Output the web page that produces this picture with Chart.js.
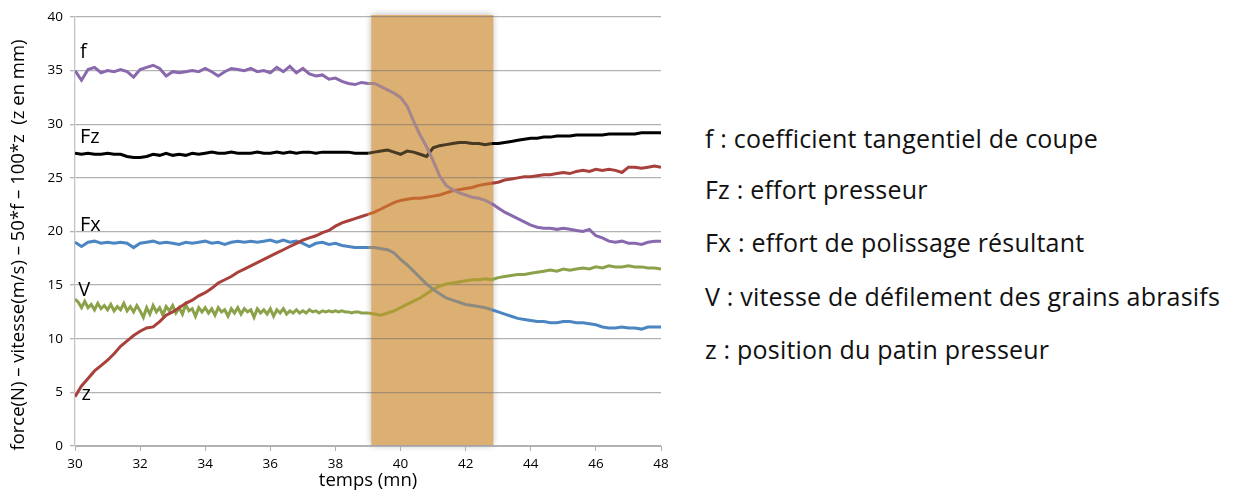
<!DOCTYPE html>
<html>
<head>
<meta charset="utf-8">
<script src="https://cdn.jsdelivr.net/npm/chart.js@4.4.1/dist/chart.umd.min.js"></script>
<style>
    body { margin: 0; background: #fff; width: 1237px; height: 492px; overflow: hidden; position: relative; font-family: 'Open Sans', sans-serif; }
    #chartBox { position: absolute; left: 0; top: 0; width: 680px; height: 492px; }
    .legend-line { position: absolute; left: 705px; font-size: 25px; color: #111; white-space: nowrap; line-height: 1; letter-spacing: 0.2px; }
</style>
</head>
<body>
<div id="chartBox"><canvas id="polissageChart"></canvas></div>
<div class="legend-line" style="top:126px">f : coefficient tangentiel de coupe</div>
<div class="legend-line" style="top:177px">Fz : effort presseur</div>
<div class="legend-line" style="top:230px">Fx : effort de polissage résultant</div>
<div class="legend-line" style="top:284px">V : vitesse de défilement des grains abrasifs</div>
<div class="legend-line" style="top:337px">z : position du patin presseur</div>
<script>
// temps (mn), un point toutes les 0.2 mn de 30 à 48
const temps = [];
for (let i = 0; i <= 90; i++) temps.push(Math.round((30 + i * 0.2) * 10) / 10);

// V est bruité : 0.1 mn de 30 à 38.9, puis 0.2 mn jusqu'à 48
const tempsV = [];
for (let i = 0; i < 90; i++) tempsV.push(Math.round((30 + i * 0.1) * 10) / 10);
for (let i = 0; i <= 45; i++) tempsV.push(Math.round((39 + i * 0.2) * 10) / 10);

const serieF = [
    35.0, 34.1, 35.1, 35.3, 34.8,
    35.0, 34.9, 35.1, 34.9, 34.4,
    35.1, 35.3, 35.5, 35.2, 34.5,
    34.9, 34.8, 34.9, 35.0, 34.9,
    35.2, 34.9, 34.5, 34.9, 35.2,
    35.1, 35.0, 35.2, 34.9, 35.0,
    34.8, 35.3, 34.9, 35.4, 34.8,
    35.2, 34.7, 34.5, 34.6, 34.2,
    34.3, 34.0, 33.8, 33.7, 33.9,
    33.8, 33.8, 33.5, 33.2, 32.9,
    32.5, 31.7, 30.3, 29.0, 27.9,
    26.6, 25.2, 24.3, 23.9, 23.6,
    23.4, 23.2, 23.1, 22.9, 22.6,
    22.2, 21.8, 21.5, 21.2, 20.9,
    20.6, 20.4, 20.3, 20.3, 20.2,
    20.3, 20.2, 20.1, 20.0, 20.2,
    19.6, 19.4, 19.1, 19.0, 19.1,
    18.9, 18.9, 18.8, 19.0, 19.1,
    19.1
];
const serieFz = [
    27.3, 27.2, 27.3, 27.2, 27.2,
    27.3, 27.2, 27.2, 27.0, 26.9,
    26.9, 27.0, 27.2, 27.1, 27.3,
    27.1, 27.2, 27.1, 27.3, 27.2,
    27.3, 27.4, 27.3, 27.3, 27.4,
    27.3, 27.3, 27.3, 27.4, 27.3,
    27.3, 27.4, 27.3, 27.4, 27.3,
    27.4, 27.4, 27.3, 27.4, 27.4,
    27.4, 27.4, 27.4, 27.3, 27.3,
    27.3, 27.4, 27.5, 27.6, 27.4,
    27.2, 27.5, 27.4, 27.2, 27.0,
    27.8, 28.0, 28.1, 28.2, 28.3,
    28.3, 28.2, 28.2, 28.1, 28.2,
    28.2, 28.3, 28.4, 28.5, 28.6,
    28.7, 28.7, 28.8, 28.8, 28.9,
    28.9, 28.9, 29.0, 29.0, 29.0,
    29.0, 29.0, 29.1, 29.1, 29.1,
    29.1, 29.1, 29.2, 29.2, 29.2,
    29.2
];
const serieFx = [
    19.0, 18.6, 19.0, 19.1, 18.9,
    19.0, 18.9, 19.0, 18.9, 18.5,
    18.9, 19.0, 19.1, 18.9, 19.0,
    18.9, 18.8, 19.0, 18.9, 19.0,
    19.1, 18.9, 19.0, 18.8, 19.0,
    19.1, 19.0, 19.1, 19.0, 19.1,
    19.2, 19.0, 19.2, 19.0, 19.1,
    18.9, 18.6, 18.9, 19.0, 18.8,
    18.9, 18.7, 18.6, 18.5, 18.5,
    18.5, 18.5, 18.4, 18.3, 18.0,
    17.4, 16.9, 16.3, 15.7, 15.1,
    14.6, 14.2, 13.8, 13.6, 13.4,
    13.2, 13.1, 13.0, 12.9, 12.7,
    12.5, 12.3, 12.1, 11.9, 11.8,
    11.7, 11.6, 11.6, 11.5, 11.5,
    11.6, 11.6, 11.5, 11.5, 11.4,
    11.3, 11.1, 11.0, 11.0, 11.1,
    11.0, 11.0, 10.9, 11.1, 11.1,
    11.1
];
const serieV = [
    13.7, 13.4, 12.9, 13.5, 12.9, 13.2, 12.7, 13.3, 12.8, 13.1,
    12.7, 13.2, 12.6, 13.0, 12.7, 13.3, 12.6, 13.0, 12.5, 13.1,
    12.6, 12.0, 12.9, 12.3, 13.1, 12.5, 12.9, 12.2, 13.0, 12.6,
    13.1, 12.4, 12.9, 12.3, 13.2, 12.6, 12.8, 12.1, 12.9, 12.5,
    12.9, 12.4, 12.8, 12.2, 12.9, 12.5, 12.7, 12.1, 12.8, 12.4,
    12.9, 12.3, 12.8, 12.5, 12.7, 12.0, 12.8, 12.4, 12.7, 12.3,
    12.8, 12.1, 12.7, 12.4, 12.8, 12.3, 12.6, 12.4, 12.7, 12.4,
    12.6, 12.4, 12.7, 12.5, 12.6, 12.4, 12.6, 12.5, 12.6, 12.5,
    12.6, 12.5, 12.6, 12.5, 12.5, 12.4, 12.5, 12.5, 12.4, 12.4,
    12.4, 12.3, 12.2, 12.4, 12.6,
    12.9, 13.2, 13.5, 13.8, 14.2,
    14.6, 14.9, 15.1, 15.2, 15.3,
    15.4, 15.5, 15.5, 15.6, 15.5,
    15.7, 15.8, 15.9, 16.0, 16.0,
    16.1, 16.2, 16.3, 16.4, 16.3,
    16.5, 16.4, 16.5, 16.6, 16.5,
    16.7, 16.6, 16.8, 16.7, 16.7,
    16.8, 16.7, 16.7, 16.6, 16.6,
    16.5
];
const serieZ = [
    4.6, 5.6, 6.3, 7.0, 7.5,
    8.0, 8.6, 9.3, 9.8, 10.3,
    10.7, 11.0, 11.1, 11.6, 12.2,
    12.5, 12.9, 13.3, 13.6, 14.0,
    14.3, 14.7, 15.2, 15.5, 15.8,
    16.2, 16.5, 16.8, 17.1, 17.4,
    17.7, 18.0, 18.3, 18.6, 18.9,
    19.2, 19.4, 19.6, 19.9, 20.1,
    20.5, 20.8, 21.0, 21.2, 21.4,
    21.6, 21.8, 22.1, 22.4, 22.7,
    22.9, 23.0, 23.1, 23.1, 23.2,
    23.3, 23.4, 23.6, 23.8, 23.9,
    24.0, 24.1, 24.3, 24.4, 24.5,
    24.6, 24.8, 24.9, 25.0, 25.1,
    25.1, 25.2, 25.3, 25.3, 25.4,
    25.5, 25.4, 25.6, 25.7, 25.6,
    25.8, 25.7, 25.8, 25.7, 25.5,
    26.0, 26.0, 25.9, 26.0, 26.1,
    26.0
];

const xTicks = [30, 32, 34, 36, 38, 40, 42, 44, 46, 48];
const yTicks = [0, 5, 10, 15, 20, 25, 30, 35, 40];
const titreY = 'force(N) – vitesse(m/s) – 50*f – 100*z  (z en mm)';

// zone orange (mn)
const zoneDebut = 39.1;
const zoneFin = 42.85;

// étiquettes posées sur les courbes
const etiquettes = [
    { texte: 'f', x: 30.15, y: 36.7 },
    { texte: 'Fz', x: 30.15, y: 28.8 },
    { texte: 'Fx', x: 30.15, y: 20.6 },
    { texte: 'V', x: 30.1, y: 14.5 },
    { texte: 'z', x: 30.2, y: 4.8 }
];

function serie(label, xs, values, color, dansZone) {
    return {
        label: label,
        data: values.map(function(v, i) { return { x: xs[i], y: v }; }),
        borderColor: color,
        borderWidth: 3,
        pointRadius: 0,
        tension: 0,
        fill: false,
        segment: {
            borderColor: function(ctx) {
                const mid = (ctx.p0.parsed.x + ctx.p1.parsed.x) / 2;
                return (mid >= zoneDebut && mid <= zoneFin) ? dansZone : color;
            }
        }
    };
}

const zonePlugin = {
    id: 'zoneOrange',
    beforeDraw: function(chart) {
        const ctx = chart.ctx;
        const x = chart.scales.x;
        const area = chart.chartArea;
        const x0 = x.getPixelForValue(zoneDebut);
        const x1 = x.getPixelForValue(zoneFin);
        ctx.save();
        ctx.shadowColor = 'rgba(0, 0, 0, .3)';
        ctx.shadowBlur = 7;
        ctx.fillStyle = '#dcaf72';
        ctx.fillRect(x0, area.top - 2, x1 - x0, area.bottom - area.top + 1);
        ctx.restore();

        // titre de l'axe vertical
        ctx.save();
        ctx.translate(19, 245);
        ctx.rotate(-Math.PI / 2);
        ctx.fillStyle = '#000';
        ctx.font = "18.5px 'Open Sans', sans-serif";
        ctx.textAlign = 'center';
        ctx.textBaseline = 'middle';
        ctx.fillText(titreY, 0, 0);
        ctx.restore();
    },
    afterDatasetsDraw: function(chart) {
        const ctx = chart.ctx;
        ctx.save();
        ctx.fillStyle = '#000';
        ctx.font = "20px 'Open Sans', sans-serif";
        ctx.textAlign = 'left';
        ctx.textBaseline = 'middle';
        etiquettes.forEach(function(e) {
            ctx.fillText(e.texte, chart.scales.x.getPixelForValue(e.x), chart.scales.y.getPixelForValue(e.y));
        });
        ctx.restore();
    }
};

new Chart(document.getElementById('polissageChart'), {
    type: 'line',
    data: {
        datasets: [
            serie('f', temps, serieF, '#8a68ad', '#a4868c'),
            serie('Fz', temps, serieFz, '#000000', '#463a22'),
            serie('z', temps, serieZ, '#a8413c', '#c4682f'),
            serie('Fx', temps, serieFx, '#4b86c2', '#8d8a80'),
            serie('V', tempsV, serieV, '#8ca24a', '#aa9c36')
        ]
    },
    options: {
        responsive: true,
        maintainAspectRatio: false,
        animation: false,
        layout: {
            padding: { top: 17, right: 19, left: 0, bottom: 0 }
        },
        plugins: {
            legend: { display: false },
            tooltip: { enabled: false }
        },
        scales: {
            x: {
                type: 'linear',
                min: 30,
                max: 48,
                afterBuildTicks: function(scale) {
                    scale.ticks = xTicks.map(function(v) { return { value: v }; });
                },
                afterFit: function(scale) { scale.height = 46; },
                grid: {
                    drawOnChartArea: false,
                    drawTicks: true,
                    tickLength: 5,
                    color: '#b0b0b0'
                },
                border: { color: '#b0b0b0' },
                ticks: {
                    color: '#000',
                    padding: 5,
                    maxRotation: 0,
                    font: { size: 13.5, family: "'Open Sans', sans-serif" }
                },
                title: {
                    display: true,
                    text: 'temps (mn)',
                    color: '#000',
                    padding: { top: 0, bottom: 0 },
                    font: { size: 18.5, family: "'Open Sans', sans-serif" }
                }
            },
            y: {
                min: 0,
                max: 40,
                afterBuildTicks: function(scale) {
                    scale.ticks = yTicks.map(function(v) { return { value: v }; });
                },
                afterFit: function(scale) { scale.width = 75; },
                grid: {
                    color: 'rgba(110, 110, 110, .52)',
                    lineWidth: 1.3,
                    tickLength: 5
                },
                border: { color: '#c4c4c4', width: 1.3 },
                ticks: {
                    color: '#000',
                    padding: 7,
                    font: { size: 13.5, family: "'Open Sans', sans-serif" }
                }
            }
        }
    },
    plugins: [zonePlugin]
});
</script>
</body>
</html>
